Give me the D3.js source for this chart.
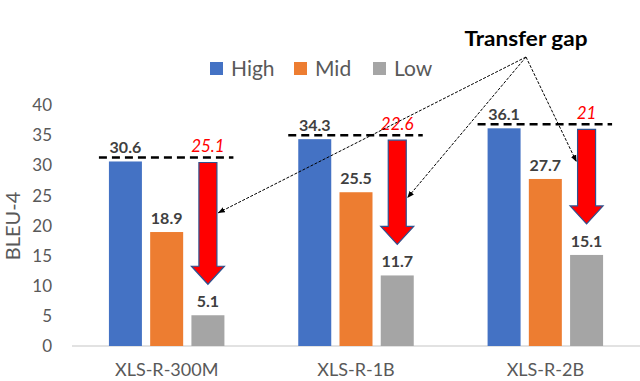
<!DOCTYPE html>
<html>
<head>
<meta charset="utf-8">
<script src="https://cdn.jsdelivr.net/npm/d3@7"></script>
<style>
  body { margin: 0; background: #fff; }
  svg text { font-family: Lato, "Open Sans", sans-serif; }
</style>
</head>
<body>
<div class="chart"></div>
<script>
// data
var models = ["XLS-R-300M", "XLS-R-1B", "XLS-R-2B"];
var levels = ["High", "Mid", "Low"];
var high = [30.6, 34.3, 36.1];
var mid = [18.9, 25.5, 27.7];
var low = [5.1, 11.7, 15.1];
var gapLabels = ["25.1", "22.6", "21"];
var yTicks = [0, 5, 10, 15, 20, 25, 30, 35, 40];
var colors = ["#4472C4", "#ED7D31", "#A5A5A5"];

var width = 640, height = 381;
var svg = d3.select(".chart").append("svg")
    .attr("width", width)
    .attr("height", height);

var x0 = d3.scaleBand().domain(models).range([72, 640])
    .paddingInner(0.39).paddingOuter(0.195);
var x1 = d3.scaleBand().domain(levels).range([0, x0.bandwidth()])
    .paddingInner(0.2).paddingOuter(0);
var y = d3.scaleLinear().domain([0, 40]).range([346, 104.8]);

var series = levels.map(function(l, i) {
  var vals = [high, mid, low][i];
  return models.map(function(m, j) { return {model: m, level: l, value: vals[j], c: colors[i]}; });
});

// y axis labels (no line)
var yAxis = svg.append("g")
    .attr("transform", "translate(60,0)")
    .call(d3.axisLeft(y).tickValues(yTicks).tickSize(0).tickPadding(8));
yAxis.select(".domain").remove();
yAxis.selectAll("text")
    .style("font-family", "Lato, sans-serif")
    .style("font-size", "17px")
    .attr("fill", "#595959")
    .attr("dy", "0.34em");

// baseline
svg.append("line")
    .attr("x1", 72).attr("x2", 640)
    .attr("y1", y(0)).attr("y2", y(0))
    .attr("stroke", "#d9d9d9").attr("stroke-width", 1.5);

// category labels
var xAxis = svg.append("g")
    .attr("transform", "translate(0," + y(0) + ")")
    .call(d3.axisBottom(x0).tickSize(0).tickPadding(17));
xAxis.select(".domain").remove();
xAxis.selectAll("text")
    .style("font-family", "Lato, sans-serif")
    .style("font-size", "18px")
    .attr("fill", "#595959");

// y title
svg.append("text")
    .attr("transform", "translate(20,226) rotate(-90)")
    .attr("text-anchor", "middle")
    .style("font-size", "20px")
    .attr("fill", "#595959")
    .text("BLEU-4");

// bars
var groups = svg.selectAll(".series").data(series).enter().append("g");
groups.selectAll("rect").data(function(d) { return d; }).enter().append("rect")
    .attr("x", function(d) { return x0(d.model) + x1(d.level); })
    .attr("y", function(d) { return y(d.value); })
    .attr("width", x1.bandwidth())
    .attr("height", function(d) { return y(0) - y(d.value); })
    .attr("fill", function(d) { return d.c; });

groups.selectAll(".val").data(function(d) { return d; }).enter().append("text")
    .attr("x", function(d) { return x0(d.model) + x1(d.level) + x1.bandwidth() / 2; })
    .attr("y", function(d) { return y(d.value) - 8; })
    .attr("text-anchor", "middle")
    .style("font-size", "16px")
    .style("font-weight", "bold")
    .attr("fill", "#404040")
    .text(function(d) { return d.value; });

// dashed reference lines at the High level
svg.selectAll(".ref").data(models).enter().append("line")
    .attr("x1", function(d) { return x0(d) - 10; })
    .attr("x2", function(d) { return x0(d) + x0.bandwidth() + 9; })
    .attr("y1", function(d, i) { return y(high[i]) - 4; })
    .attr("y2", function(d, i) { return y(high[i]) - 4; })
    .attr("stroke", "#000")
    .attr("stroke-width", 2.5)
    .attr("stroke-dasharray", "8,5");

// red gap arrows over the Low bar
var headLen = 18, shaftW = 18;
svg.selectAll(".gap").data(models).enter().append("path")
    .attr("d", function(d, i) {
      var cx = x0(d) + x1("Low") + x1.bandwidth() / 2;
      var top = y(high[i]) + 1;
      var tip = y(low[i]) - 31;
      var hw = x1.bandwidth() / 2;
      var hy = tip - headLen;
      return "M" + (cx - shaftW / 2) + "," + top +
        "L" + (cx + shaftW / 2) + "," + top +
        "L" + (cx + shaftW / 2) + "," + hy +
        "L" + (cx + hw) + "," + hy +
        "L" + cx + "," + tip +
        "L" + (cx - hw) + "," + hy +
        "L" + (cx - shaftW / 2) + "," + hy + "Z";
    })
    .attr("fill", "#FF0000")
    .attr("stroke", "#2F528F")
    .attr("stroke-width", 1.2);

svg.selectAll(".gapLabel").data(models).enter().append("text")
    .attr("x", function(d) { return x0(d) + x1("Low") + x1.bandwidth() / 2; })
    .attr("y", function(d, i) { return y(high[i]) - 9; })
    .attr("text-anchor", "middle")
    .style("font-size", "17px")
    .style("font-style", "italic")
    .attr("fill", "#FF0000")
    .text(function(d, i) { return gapLabels[i]; });

// legend
var legend = svg.append("g").attr("transform", "translate(210,62)");
var lx = [0, 84, 163];
levels.forEach(function(l, i) {
  legend.append("rect")
    .attr("x", lx[i]).attr("y", 0)
    .attr("width", 13).attr("height", 13)
    .attr("fill", colors[i]);
  legend.append("text")
    .attr("x", lx[i] + 21).attr("y", 14)
    .style("font-size", "21px")
    .attr("fill", "#595959")
    .text(l);
});

// "Transfer gap" annotation
svg.append("defs").append("marker")
    .attr("id", "head")
    .attr("viewBox", "0 0 10 10")
    .attr("refX", 10).attr("refY", 5)
    .attr("markerWidth", 7).attr("markerHeight", 7)
    .attr("orient", "auto")
  .append("path")
    .attr("d", "M0,1L10,5L0,9Z")
    .attr("fill", "#000");

var origin = [526, 57];
var targets = models.map(function(d, i) {
  var cx = x0(d) + x1("Low") + x1.bandwidth() / 2;
  var yy = [213, 198, 162][i];
  return [cx + shaftW / 2 + 1, yy];
});
targets[2][0] = x0(models[2]) + x1("Low") + x1.bandwidth() / 2 - shaftW / 2 - 1;

svg.selectAll(".ann").data(targets).enter().append("line")
    .attr("x1", origin[0]).attr("y1", origin[1])
    .attr("x2", function(d) { return d[0]; })
    .attr("y2", function(d) { return d[1]; })
    .attr("stroke", "#000")
    .attr("stroke-width", 1)
    .attr("stroke-dasharray", "3,1.5")
    .attr("marker-end", "url(#head)");

svg.append("text")
    .attr("x", 526).attr("y", 46)
    .attr("text-anchor", "middle")
    .attr("textLength", 123)
    .attr("lengthAdjust", "spacingAndGlyphs")
    .style("font-size", "20px")
    .style("font-weight", "bold")
    .attr("fill", "#000")
    .text("Transfer gap");
</script>
</body>
</html>
